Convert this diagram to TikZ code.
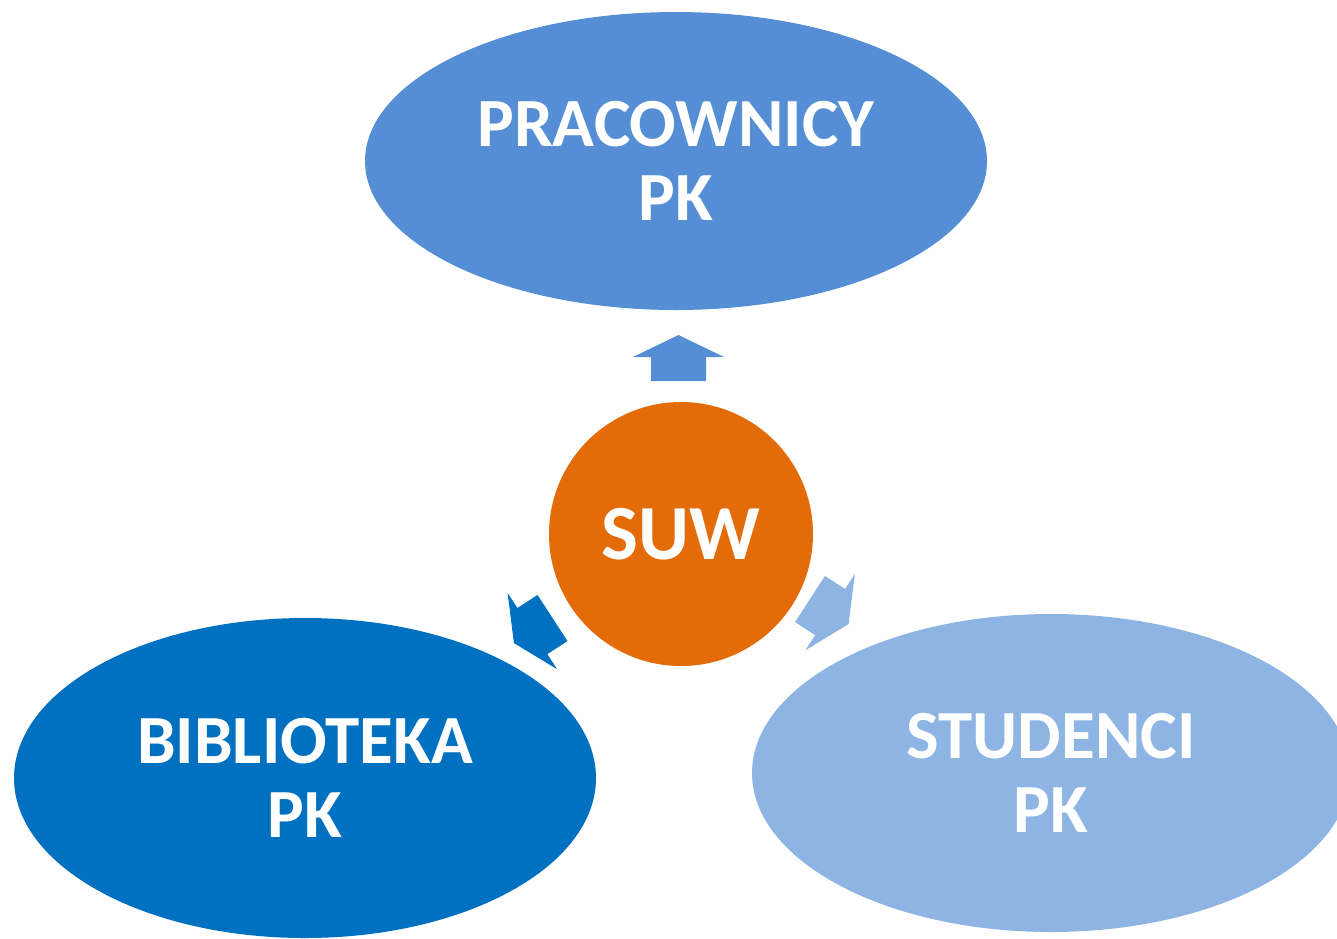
\documentclass[tikz,border=0pt]{standalone}
\usepackage{fontspec}
\setmainfont{Carlito}
\usetikzlibrary{shapes.geometric}
\definecolor{cTop}{HTML}{558ED5}
\definecolor{cLeft}{HTML}{0070C0}
\definecolor{cRight}{HTML}{8EB4E3}
\definecolor{cMid}{HTML}{E36C09}
\tikzset{
  blob/.style={ellipse, inner sep=0pt, outer sep=0pt, text=white, align=center,
    font=\bfseries\fontsize{69}{74.5}\selectfont},
  barrow/.pic={\fill[pic actions] (0,-27.5) -- (24,-27.5) -- (24,-45.5) -- (46,0) -- (24,45.5) -- (24,27.5) -- (0,27.5) -- cycle;}
}
\begin{document}
\begin{tikzpicture}[x=1pt,y=-1pt]
\useasboundingbox (0,0) rectangle (1337,938);
\clip (0,0) rectangle (1337,938);
\node[blob, fill=cTop, minimum width=622, minimum height=298] (pracownicy) at (676,161) {PRACOWNICY\\PK};
\node[blob, fill=cLeft, minimum width=582, minimum height=320] (biblioteka) at (305,778) {BIBLIOTEKA\\PK};
\node[blob, fill=cRight, minimum width=598, minimum height=318] (studenci) at (1051,773) {STUDENCI\\PK};
\node[circle, fill=cMid, minimum size=264, inner sep=0pt, outer sep=0pt, text=white,
  font=\bfseries\fontsize{78}{80}\selectfont] (suw) at (681,534) {SUW};
\pic[fill=cTop, rotate=90] at (678.5,381) {barrow};
\pic[fill=cLeft, rotate=213] at (552.5,618) {barrow};
\pic[fill=cRight, rotate=-33] at (810,599) {barrow};
\end{tikzpicture}
\end{document}
